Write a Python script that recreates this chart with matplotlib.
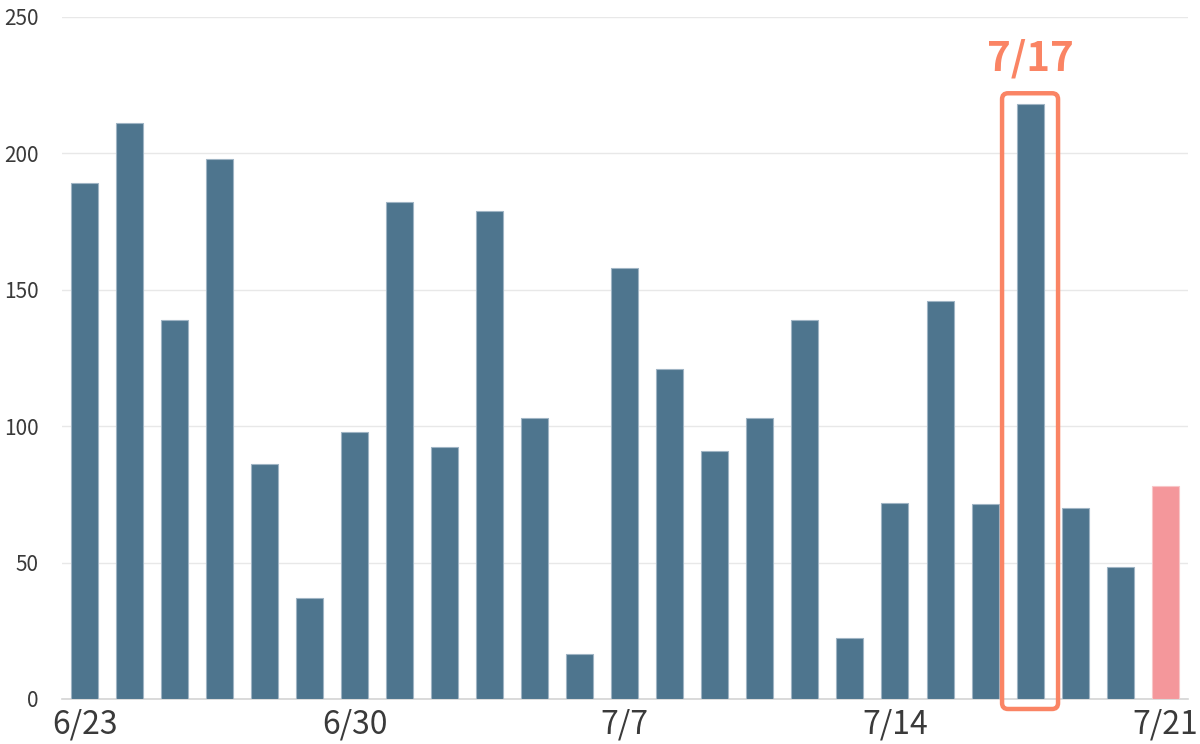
import matplotlib
matplotlib.use("Agg")
import matplotlib.pyplot as plt
from matplotlib.patches import FancyBboxPatch

plt.rcParams["font.family"] = ["Noto Sans CJK JP", "DejaVu Sans"]

# valores (um por barra)
values = [189, 211, 139, 198, 86, 37, 98, 182, 92.5, 179, 103, 16.5,
          158, 121, 91, 103, 139, 22.5, 72, 146, 71.5, 218, 70, 48.5, 78]
tick_pos = [0, 6, 12, 18, 24]
tick_labels = ["6/23", "6/30", "7/7", "7/14", "7/21"]
highlight_idx = 21
highlight_label = "7/17"
last_idx = 24

C_BAR = "#4e758e"
C_LAST = "#f4979b"
C_HI = "#fa8464"
C_TEXT = "#3a3a3a"
C_GRID = "#e8e8e8"

fig = plt.figure(figsize=(12, 7.44), dpi=100)
ax = fig.add_axes([0.0517, 0.0605, 0.938, 0.9167])

x = list(range(len(values)))
colors = [C_LAST if i == last_idx else C_BAR for i in x]
edges = ["#f8c6c8" if i == last_idx else "#9fb4c4" for i in x]
ax.bar(x, values, width=0.6, color=colors, edgecolor=edges, linewidth=0.8,
       zorder=3)

ax.set_xlim(-0.5, len(values) - 0.5)
ax.set_ylim(0, 250)
ax.set_yticks([0, 50, 100, 150, 200, 250])
ax.yaxis.grid(True, color=C_GRID, linewidth=1.0, zorder=0)
ax.set_axisbelow(True)
for side in ("top", "right", "left"):
    ax.spines[side].set_visible(False)
ax.spines["bottom"].set_color("#d4d4d4")
ax.spines["bottom"].set_linewidth(1.2)
ax.tick_params(axis="y", length=0, pad=17, labelsize=15, labelcolor=C_TEXT)
ax.tick_params(axis="x", length=0, pad=7, labelsize=23, labelcolor=C_TEXT)
ax.set_xticks(tick_pos)
ax.set_xticklabels(tick_labels)

# destaque do dia 7/17
px_x = (len(values)) / (0.938 * 1200)       # unidades por pixel em x
px_y = 250 / (0.9167 * 744)                 # unidades por pixel em y
hv = values[highlight_idx]
x0 = highlight_idx - 28 * px_x
x1 = highlight_idx + 28 * px_x
y0 = -10 * px_y
y1 = hv + 11 * px_y
box = FancyBboxPatch((x0, y0), x1 - x0, y1 - y0,
                     boxstyle="round,pad=0,rounding_size=%f" % (6 * px_x),
                     mutation_aspect=px_y / px_x,
                     facecolor="none", edgecolor=C_HI, linewidth=3.2,
                     clip_on=False, zorder=4)
ax.add_patch(box)
ax.text(highlight_idx, y1 + 14 * px_y, highlight_label, color=C_HI,
        fontsize=29, fontweight="bold", ha="center", va="bottom")

fig.savefig("out.png", dpi=100, facecolor="white")
